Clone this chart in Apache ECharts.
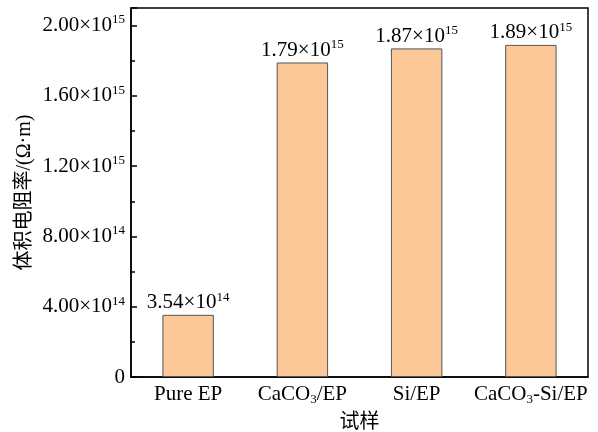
<!DOCTYPE html>
<html>
<head>
<meta charset="utf-8">
<script src="https://cdn.jsdelivr.net/npm/echarts@6/dist/echarts.min.js"></script>
<style>
  html, body { margin: 0; padding: 0; background: #fff; }
  #chart { width: 598px; height: 432px; }
</style>
</head>
<body>
<div id="chart"></div>
<script>
// Samples and their volume resistivity (Ω·m)
const categories = ['Pure EP', 'CaCO3/EP', 'Si/EP', 'CaCO3-Si/EP'];
const resistivity = [3.54e14, 1.79e15, 1.87e15, 1.89e15];
// Y-axis tick values
const yTicks = [0, 4e14, 8e14, 1.2e15, 1.6e15, 2e15];

const serif = '"Liberation Serif", "Times New Roman", serif';
const mixed = '"Liberation Serif", "Noto Sans CJK SC", serif';

// Write a number as mantissa×10^exp with a superscript exponent
function sci(v) {
  if (v === 0) return '{m|0}';
  const e = Math.floor(Math.log10(v));
  const m = (v / Math.pow(10, e)).toFixed(2);
  return '{m|' + m + '×10}{s|' + e + '}';
}

// Category names with subscript digits after "CaCO"
function catLabel(name) {
  return name.split(/(3)/).map(p => p === '3' ? '{sub|3}' : (p ? '{n|' + p + '}' : '')).join('');
}

const sciRich = {
  m: { fontFamily: serif, fontSize: 21, color: '#000', lineHeight: 24 },
  s: { fontFamily: serif, fontSize: 13, color: '#000', verticalAlign: 'top', lineHeight: 24, padding: [0, 0, 2, 0] }
};

const chart = echarts.init(document.getElementById('chart'));
chart.setOption({
  animation: false,
  backgroundColor: '#fff',
  grid: {
    left: 131, right: 10, top: 8, bottom: 55,
    containLabel: false,
    outerBoundsMode: 'none',
    show: true, borderColor: '#000', borderWidth: 1.5, backgroundColor: 'transparent'
  },
  xAxis: {
    type: 'category',
    data: categories,
    name: '试样',
    nameLocation: 'middle',
    nameGap: 36,
    nameTextStyle: { fontFamily: mixed, fontSize: 20, color: '#000' },
    axisLine: { lineStyle: { color: '#000', width: 1.5 } },
    axisTick: { show: false },
    axisLabel: {
      interval: 0,
      margin: 5,
      color: '#000',
      formatter: v => catLabel(v),
      rich: {
        n: { fontFamily: serif, fontSize: 21, color: '#000', lineHeight: 24 },
        sub: { fontFamily: serif, fontSize: 13, color: '#000', verticalAlign: 'bottom', lineHeight: 24, padding: [14, 0, 0, 0] }
      }
    }
  },
  yAxis: {
    type: 'value',
    min: 0,
    max: 2.1e15,
    interval: 4e14,
    name: '体积电阻率/(Ω·m)',
    nameLocation: 'middle',
    nameGap: 96,
    nameMoveOverlap: false,
    nameTextStyle: { fontFamily: mixed, fontSize: 20, color: '#000' },
    axisLine: { show: true, lineStyle: { color: '#000', width: 1.5 } },
    axisTick: { show: true, inside: true, length: 6, lineStyle: { color: '#000', width: 1.5 } },
    minorTick: { show: true, splitNumber: 2, length: 4, lineStyle: { color: '#000', width: 1.5 } },
    splitLine: { show: false },
    axisLabel: {
      margin: 6,
      customValues: yTicks,
      formatter: v => sci(v),
      rich: sciRich
    }
  },
  series: [{
    type: 'bar',
    data: resistivity,
    barWidth: '45%',
    itemStyle: { color: '#FDC897', borderColor: '#555', borderWidth: 1 },
    label: {
      show: true,
      position: 'top',
      distance: 0,
      formatter: p => sci(p.value),
      rich: sciRich
    }
  }]
});
</script>
</body>
</html>
